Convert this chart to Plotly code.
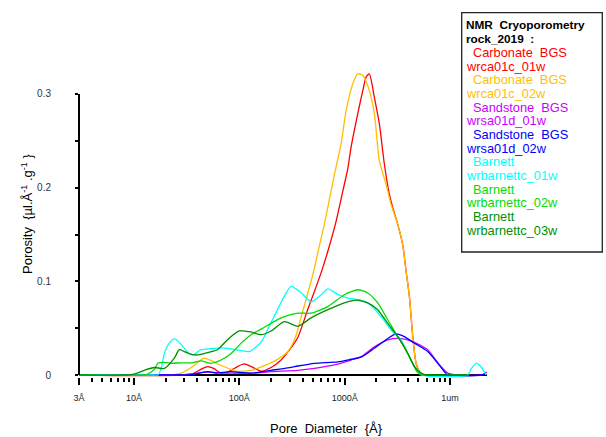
import plotly.graph_objects as go
import math

# ---------------- data (pore diameter in Angstrom, porosity in ul/A/g) ----------------
carb01_d = [3, 35, 43, 50, 57, 67, 80, 96, 111, 130, 161, 200, 249, 300, 359, 446, 510, 597, 700, 829,
            959, 1070, 1150, 1332, 1486, 1598, 1716, 1914, 2136, 2383, 2657, 2862, 3193, 3562, 3828,
            4117, 4434, 4764, 5118, 5516]
carb01_p = [0, 0.001, 0.006, 0.009, 0.007, 0.002, 0.004, 0.009, 0.0118, 0.009, 0.004, 0.008, 0.016, 0.027,
            0.040, 0.070, 0.0876, 0.109, 0.134, 0.164, 0.196, 0.220, 0.243, 0.279, 0.3036, 0.318, 0.3215,
            0.2965, 0.268, 0.225, 0.193, 0.1786, 0.1608, 0.139, 0.111, 0.084, 0.041, 0.0125, 0.004, 0]

carb02_d = [3, 22, 28, 35, 46, 55, 62, 75, 93, 130, 173, 232, 288, 340, 400, 446, 498, 570, 642, 799, 924,
            1031, 1194, 1332, 1486, 1716, 1914, 2136, 2473, 2758, 3193, 3562, 3828, 4117, 4434, 4764, 5118, 5516]
carb02_p = [0, 0, 0.002, 0.008, 0.018, 0.015, 0.012, 0.008, 0.004, 0.005, 0.010, 0.017, 0.025, 0.040, 0.068,
            0.087, 0.107, 0.136, 0.161, 0.214, 0.2465, 0.282, 0.311, 0.3215, 0.320, 0.3036, 0.279, 0.2286,
            0.2036, 0.182, 0.1608, 0.139, 0.111, 0.084, 0.041, 0.0125, 0.004, 0]

sand01_d = [3, 15, 30, 50, 83, 130, 200, 359, 516, 799, 1150, 1432, 1914, 2566, 3308, 4434, 6155, 7112,
            8232, 9530, 12000, 20000, 21500, 22300]
sand01_p = [0, 0, 0.0005, 0.003, 0.002, 0.002, 0.0035, 0.005, 0.007, 0.0107, 0.016, 0.0196, 0.030, 0.0375,
            0.039, 0.0357, 0.027, 0.018, 0.009, 0.002, 0, 0, 0.0015, 0.0035]

sand02_d = [3, 15, 35, 50, 60, 83, 129, 200, 288, 359, 516, 860, 1150, 1432, 1914, 2566, 3077, 3690, 4591,
            6155, 7659, 8851, 9530, 20000, 22000]
sand02_p = [0, 0, 0.0005, 0.0035, 0.002, 0.0035, 0.002, 0.005, 0.0075, 0.0096, 0.0125, 0.014, 0.0168, 0.019,
            0.0286, 0.039, 0.044, 0.041, 0.034, 0.025, 0.0125, 0.0035, 0, 0, 0.002]

barn01_d = [3, 15.6, 16.8, 18, 19.4, 21.6, 24.1, 27.9, 32.4, 36.1, 43.3, 53.8, 67, 83.4, 104, 124.5, 161, 200,
            267, 310, 385, 480, 597, 692, 860, 1070, 1432, 1657, 2217, 2758, 3433, 3974, 4434, 4944, 5316,
            14760, 16000, 17700, 20000, 21240, 22040]
barn01_p = [0, 0, 0, 0.006, 0.023, 0.034, 0.0386, 0.033, 0.024, 0.0214, 0.027, 0.028, 0.029, 0.028, 0.026,
            0.025, 0.035, 0.056, 0.084, 0.0946, 0.088, 0.078, 0.0855, 0.092, 0.086, 0.082, 0.080, 0.0768,
            0.0625, 0.048, 0.0375, 0.023, 0.0125, 0.005, 0, 0, 0.007, 0.0125, 0.008, 0.003, 0]

barn02_d = [3, 12.5, 13.5, 15.6, 16.8, 19.4, 22.5, 28, 36, 43.3, 53.8, 67, 83.4, 104, 129, 161, 249, 359,
            480, 692, 994, 1332, 1657, 2061, 2566, 3193, 3690, 4272, 4764, 5118, 5500, 14760]
barn02_p = [0, 0, 0.001, 0.006, 0.0125, 0.0135, 0.0125, 0.013, 0.013, 0.015, 0.0125, 0.016, 0.023, 0.034,
            0.043, 0.049, 0.061, 0.066, 0.066, 0.073, 0.0857, 0.091, 0.0875, 0.077, 0.059, 0.041, 0.030,
            0.016, 0.005, 0.001, 0, 0]

barn03_d = [3, 8.1, 10, 12.5, 15.6, 19.4, 24.1, 26.9, 30, 35, 40, 50, 62, 77.6, 100, 129, 161, 200, 267,
            359, 480, 692, 994, 1284, 1657, 2061, 2566, 3193, 3974, 4591, 5316, 5900, 14760]
barn03_p = [0, 0, 0.001, 0.005, 0.008, 0.007, 0.018, 0.027, 0.025, 0.022, 0.0214, 0.024, 0.027, 0.038,
            0.047, 0.046, 0.043, 0.047, 0.057, 0.052, 0.061, 0.0697, 0.077, 0.080, 0.077, 0.0697, 0.055,
            0.041, 0.023, 0.009, 0.002, 0, 0]

series_top = ["Carbonate  BGS", "Carbonate  BGS", "Sandstone  BGS", "Sandstone  BGS",
              "Barnett", "Barnett", "Barnett"]
series_ids = ["wrca01c_01w", "wrca01c_02w", "wrsa01d_01w", "wrsa01d_02w",
              "wrbarnettc_01w", "wrbarnettc_02w", "wrbarnettc_03w"]
series_colors = ["#FF0000", "#FFBF00", "#CC00FF", "#0000FF", "#00FFFF", "#00DD00", "#009000"]
series_data = [(carb01_d, carb01_p), (carb02_d, carb02_p), (sand01_d, sand01_p), (sand02_d, sand02_p),
               (barn01_d, barn01_p), (barn02_d, barn02_p), (barn03_d, barn03_p)]

legend_title = ["NMR  Cryoporometry", "rock_2019  :"]

x_tickvals = [3, 10, 100, 1000, 10000]
x_ticktext = ["3Å", "10Å", "100Å", "1000Å", "1um"]
x_minor = [m * 10 ** k for k in range(0, 4) for m in range(2, 10) if m * 10 ** k > 3]
y_tickvals = [0, 0.1, 0.2, 0.3]
y_ticktext = ["0", "0.1", "0.2", "0.3"]
y_minor = [0.05, 0.15, 0.25]

# ---------------- layout geometry ----------------
W, H = 606, 437
PL, PR, PT, PB = 79, 487, 66, 377
FONT = "Liberation Sans, Arial, sans-serif"


def px(xp):
    return (xp - PL) / (PR - PL)


def py(yp):
    return (PB - yp) / (PB - PT)


fig = go.Figure()
for (d, p), c, nm in zip(series_data, series_colors, series_ids):
    fig.add_trace(go.Scatter(x=d, y=p, mode="lines", name=nm,
                             line=dict(color=c, width=1.3, shape="spline", smoothing=0.6),
                             showlegend=False, hoverinfo="x+y+name"))

x_lo = math.log10(3)
x_hi = x_lo + (PR - PL) / 105.3
y_unit = 936.7
y_lo = -(PB - 375) / y_unit
y_hi = (375 - PT) / y_unit

annotations = []
# legend text
y0, dy = 25, 13.67
for i, t in enumerate(legend_title):
    annotations.append(dict(text="<b>" + t.replace(" ", "\u00a0") + "</b>", x=px(465), y=py(y0 + i * dy),
                            xref="paper", yref="paper", xanchor="left", yanchor="middle", showarrow=False,
                            borderpad=0,
                            font=dict(family=FONT, size=11.8, color="black")))
for k, (top, sid, c) in enumerate(zip(series_top, series_ids, series_colors)):
    row = 2 + 2 * k
    annotations.append(dict(text=top.replace(" ", "\u00a0"), x=px(472), y=py(y0 + row * dy),
                            xref="paper", yref="paper", xanchor="left", yanchor="middle", showarrow=False,
                            borderpad=0,
                            font=dict(family=FONT, size=12.8, color=c)))
    annotations.append(dict(text=sid, x=px(465), y=py(y0 + (row + 1) * dy),
                            xref="paper", yref="paper", xanchor="left", yanchor="middle", showarrow=False,
                            borderpad=0,
                            font=dict(family=FONT, size=12.8, color=c)))

# axis titles
annotations.append(dict(text="Pore\u00a0\u00a0Diameter\u00a0\u00a0{Å}", x=px(326), y=py(428),
                        xref="paper", yref="paper", xanchor="center", yanchor="middle", showarrow=False,
                        font=dict(family=FONT, size=13, color="black")))
annotations.append(dict(text="Porosity\u00a0\u00a0{µl.Å<sup>-1</sup>\u00a0.g<sup>-1</sup>\u00a0}",
                        x=px(27), y=py(214), textangle=-90,
                        xref="paper", yref="paper", xanchor="center", yanchor="middle", showarrow=False,
                        font=dict(family=FONT, size=13, color="black")))

shapes = [
    # legend frame
    dict(type="rect", xref="paper", yref="paper", x0=px(461.7), x1=px(602.3), y0=py(12.7), y1=py(252),
         line=dict(color="#222222", width=1.3), fillcolor="rgba(0,0,0,0)"),
    # y axis line from 0 to 0.3
    dict(type="line", xref="paper", yref="y", x0=0, x1=0, y0=0, y1=0.3,
         line=dict(color="black", width=2)),
]

fig.update_layout(
    width=W, height=H,
    margin=dict(l=PL, r=W - PR, t=PT, b=H - PB, pad=0),
    paper_bgcolor="white", plot_bgcolor="white",
    font=dict(family=FONT, color="black"),
    showlegend=False,
    annotations=annotations,
    shapes=shapes,
    xaxis=dict(type="log", range=[x_lo, x_hi], showgrid=False, zeroline=False, showline=False,
               tickmode="array", tickvals=x_tickvals, ticktext=x_ticktext,
               ticks="outside", ticklen=7, tickwidth=2, tickcolor="black",
               ticklabelstandoff=5,
               tickfont=dict(family=FONT, size=9, color="#222222"),
               minor=dict(tickmode="array", tickvals=x_minor, ticks="outside", ticklen=4,
                          tickwidth=1.5, tickcolor="black", showgrid=False)),
    yaxis=dict(range=[y_lo, y_hi], showgrid=False, showline=False,
               zeroline=True, zerolinecolor="black", zerolinewidth=2,
               tickmode="array", tickvals=y_tickvals, ticktext=y_ticktext,
               ticks="outside", ticklen=3, tickwidth=1.5, tickcolor="black",
               ticklabelstandoff=22,
               tickfont=dict(family=FONT, size=10, color="#333333"),
               minor=dict(tickmode="array", tickvals=y_minor, ticks="outside", ticklen=3,
                          tickwidth=1.5, tickcolor="black", showgrid=False)),
)

fig.write_html("out.html", config={"displayModeBar": False},
               post_script="document.body.style.margin='0px';")
